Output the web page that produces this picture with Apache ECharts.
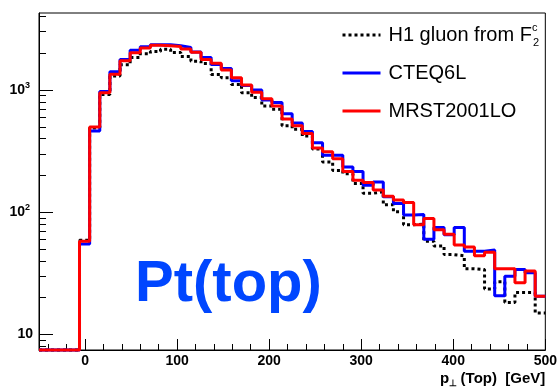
<!DOCTYPE html>
<html>

<head>
    <meta charset="utf-8">
    <script src="https://cdn.jsdelivr.net/npm/echarts@6.0.0/dist/echarts.min.js"></script>
    <style>
        html, body { margin: 0; padding: 0; background: #fff; }
        #pt_top { width: 560px; height: 388px; }
    </style>
</head>

<body>
    <div id="pt_top"></div>
</body>

<script type="text/javascript">
    // 50 bins of 11 GeV, from -50 to 500 GeV
    var binLow = -50;
    var binWidth = 11;

    var h1Gluon = [0, 0, 0, 0, 59, 490, 920, 1300, 1610, 1850,
        1980, 2070, 2160, 2030, 1880, 1720, 1650, 1340, 1260, 1110,
        950, 868, 740, 697, 510, 478, 420, 330, 258, 220,
        207, 172, 143, 147, 115, 101, 79, 80, 58, 53,
        45, 44, 34.5, 34, 23.5, 27, 18.3, 22, 22, 15];
    var cteq6l = [0, 0, 0, 0, 55, 462, 975, 1410, 1780, 2120,
        2260, 2350, 2350, 2300, 2230, 2050, 1850, 1620, 1500, 1190,
        1090, 1000, 830, 790, 640, 537, 457, 370, 292, 292,
        235, 215, 166, 177, 134, 118, 95, 96, 60, 75,
        65.5, 75, 48, 48, 49, 20.7, 30, 34, 32, 20.5];
    var mrst2001lo = [0, 0, 0, 0, 58, 498, 950, 1345, 1740, 2020,
        2210, 2330, 2300, 2270, 2170, 2040, 1780, 1660, 1460, 1260,
        1100, 960, 850, 740, 580, 510, 440, 335, 312, 274,
        215, 183, 175, 152, 135, 126, 120, 79, 89, 72,
        66, 54, 52, 44, 47, 34.5, 34.5, 26.5, 33, 20.5];

    var xMajorTicks = [0, 100, 200, 300, 400, 500];
    var xMinorTicks = [-40, -20, 20, 40, 60, 80, 120, 140, 160, 180, 220, 240, 260, 280,
        320, 340, 360, 380, 420, 440, 460, 480];
    var yMajorTicks = [10, 100, 1000];
    var yMinorTicks = [8, 9, 20, 30, 40, 50, 60, 70, 80, 90,
        200, 300, 400, 500, 600, 700, 800, 900, 2000, 3000, 4000];

    var yMin = 7.46;
    var yMax = 4270;

    // empty bins sit on the bottom of the frame, as in the log plot
    function toSteps(vals) {
        var pts = [];
        vals.forEach(function (v, i) {
            pts.push([binLow + i * binWidth, v > 0 ? v : yMin]);
        });
        var last = vals[vals.length - 1];
        pts.push([binLow + vals.length * binWidth, last > 0 ? last : yMin]);
        return pts;
    }

    var font = 'Liberation Sans';

    option = {
        animation: false,
        grid: {
            left: 39,
            right: 5,
            top: 13,
            bottom: 35,
            show: true,
            borderColor: '#000',
            borderWidth: 1,
            backgroundColor: '#fff'
        },
        legend: {
            orient: 'vertical',
            left: 336,
            top: 17,
            itemWidth: 38,
            itemHeight: 14,
            itemGap: 12,
            itemStyle: { opacity: 0 },
            lineStyle: { width: 3 },
            textStyle: {
                fontFamily: font,
                fontSize: 20,
                color: '#000',
                lineHeight: 26,
                padding: [0, 0, 0, 3],
                rich: {
                    sup: { fontFamily: font, fontSize: 11, verticalAlign: 'top', width: 1, lineHeight: 26 },
                    sub: { fontFamily: font, fontSize: 11, verticalAlign: 'bottom', lineHeight: 26 }
                }
            },
            formatter: function (name) {
                if (name === 'H1 gluon from F') {
                    return name + '{sup|c}{sub|2}';
                }
                return name;
            },
            data: ['H1 gluon from F', 'CTEQ6L', 'MRST2001LO']
        },
        xAxis: [
            {
                type: 'value',
                min: -50,
                max: 500,
                position: 'bottom',
                axisLine: { show: true, onZero: false, lineStyle: { color: '#000', width: 1 } },
                axisTick: { inside: true, length: 11, customValues: xMajorTicks, lineStyle: { color: '#000' } },
                axisLabel: {
                    customValues: xMajorTicks,
                    margin: 4,
                    fontFamily: font,
                    fontSize: 14,
                    fontWeight: 'bold',
                    color: '#000'
                },
                splitLine: { show: false },
                name: '{p|p}{s|\u22a5} {p|(Top)  [GeV]}',
                nameLocation: 'end',
                nameGap: 0,
                nameTextStyle: {
                    align: 'right',
                    verticalAlign: 'top',
                    padding: [20, 0, 0, 0],
                    rich: {
                        p: { fontFamily: font, fontSize: 15, fontWeight: 'bold', color: '#000', lineHeight: 18 },
                        s: { fontFamily: font, fontSize: 9, fontWeight: 'bold', color: '#000', verticalAlign: 'bottom', lineHeight: 18 }
                    }
                }
            },
            {
                type: 'value',
                min: -50,
                max: 500,
                position: 'bottom',
                axisLine: { show: false, onZero: false },
                axisTick: { inside: true, length: 6, customValues: xMinorTicks, lineStyle: { color: '#000' } },
                axisLabel: { show: false },
                splitLine: { show: false }
            }
        ],
        yAxis: [
            {
                type: 'log',
                min: yMin,
                max: yMax,
                position: 'left',
                axisLine: { show: true, onZero: false, lineStyle: { color: '#000', width: 1 } },
                axisTick: { inside: true, length: 14, customValues: yMajorTicks, lineStyle: { color: '#000' } },
                axisLabel: {
                    customValues: yMajorTicks,
                    margin: 6,
                    formatter: function (v) {
                        var e = Math.round(Math.log10(v));
                        if (e === 1) return '{b|10}';
                        return '{b|10}{s|' + e + '}';
                    },
                    rich: {
                        b: { fontFamily: font, fontSize: 14, fontWeight: 'bold', color: '#000', lineHeight: 18 },
                        s: { fontFamily: font, fontSize: 9, fontWeight: 'bold', color: '#000', verticalAlign: 'top', lineHeight: 18, padding: [0, 3, 0, 0] }
                    }
                },
                splitLine: { show: false }
            },
            {
                type: 'log',
                min: yMin,
                max: yMax,
                position: 'left',
                axisLine: { show: false, onZero: false },
                axisTick: { inside: true, length: 7, customValues: yMinorTicks, lineStyle: { color: '#000' } },
                axisLabel: { show: false },
                splitLine: { show: false }
            }
        ],
        graphic: [{
            type: 'text',
            left: 135,
            top: 256,
            style: {
                text: 'Pt(top)',
                font: 'bold 58px "Liberation Sans"',
                fill: '#0046ff'
            }
        }],
        series: [
            {
                name: 'H1 gluon from F',
                type: 'line',
                step: 'end',
                symbol: 'none',
                clip: false,
                lineStyle: { color: '#000', width: 3, type: [3, 3] },
                itemStyle: { color: '#000' },
                data: toSteps(h1Gluon)
            },
            {
                name: 'CTEQ6L',
                type: 'line',
                step: 'end',
                symbol: 'none',
                clip: false,
                lineStyle: { color: '#0000ff', width: 3 },
                itemStyle: { color: '#0000ff' },
                data: toSteps(cteq6l)
            },
            {
                name: 'MRST2001LO',
                type: 'line',
                step: 'end',
                symbol: 'none',
                clip: false,
                lineStyle: { color: '#ff0000', width: 3 },
                itemStyle: { color: '#ff0000' },
                data: toSteps(mrst2001lo)
            }
        ]
    };

    var chart = echarts.init(document.getElementById('pt_top'));
    chart.setOption(option);
</script>

</html>
